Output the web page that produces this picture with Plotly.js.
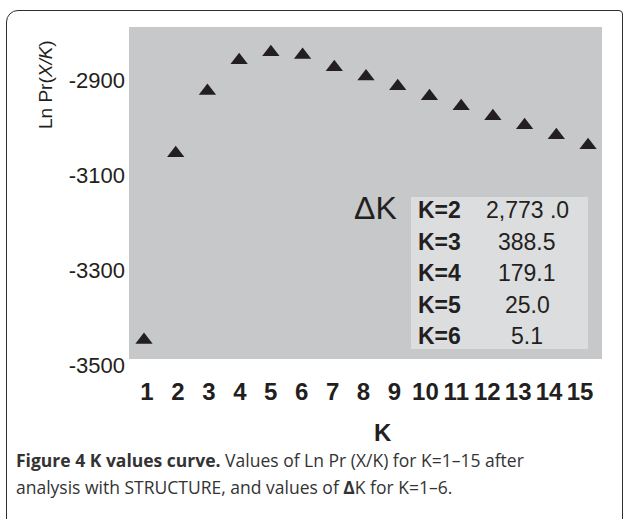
<!DOCTYPE html>
<html><head><meta charset="utf-8">
<script src="https://cdn.plot.ly/plotly-3.0.1.min.js"></script>
<style>
html,body{margin:0;padding:0;background:#fff;}
#wrap{position:relative;width:624px;height:519px;overflow:hidden;}
#frame{position:absolute;left:6px;top:10px;width:617px;height:560px;border:1.6px solid #2e2e2e;border-radius:12px 4px 0 0;box-sizing:border-box;}
#chart{position:absolute;left:0;top:0;width:624px;height:519px;}
</style></head><body>
<div id="wrap"><div id="frame"></div><div id="chart"></div></div>
<script>
// ---- data ----
const kValues = [1,2,3,4,5,6,7,8,9,10,11,12,13,14,15];
const lnPr = [-3447,-3054,-2923,-2858,-2841,-2847,-2873,-2892,-2913,-2934,-2955,-2976,-2995,-3016,-3037];
const kTickText = ['1','2','3','4','5','6','7','8','9','10','11','12','13','14','15'];
const yTickVals = [-2900,-3100,-3300,-3500];
const yTickText = ['-2900','-3100','-3300','-3500'];
const dkLabels = ['K=2','K=3','K=4','K=5','K=6'];
const dkValues = ['2,773 .0','388.5','179.1','25.0','5.1'];

// ---- layout helpers ----
const W=624,H=519,ML=129,MR=22,MT=27,MB=153;
const PW=W-ML-MR, PH=H-MT-MB;
const px=(x)=>(x-ML)/PW;
const py=(y)=>(H-MB-y)/PH;
const ink='#231f20';

const traces=[
 {x:kValues,y:lnPr,type:'scatter',mode:'markers',xaxis:'x',yaxis:'y',
  marker:{symbol:'triangle-up',size:15,color:ink,line:{width:0}},hoverinfo:'skip',showlegend:false},
 {x:kValues,y:lnPr,type:'scatter',mode:'markers',xaxis:'x2',yaxis:'y',
  marker:{opacity:0},hoverinfo:'skip',showlegend:false}
];

const ann=[];
ann.push({xref:'paper',yref:'paper',x:px(45),y:py(85),text:'Ln Pr(<i>X/K</i>)',textangle:-90,
  showarrow:false,xanchor:'center',yanchor:'middle',font:{family:'Liberation Sans',size:19,color:ink}});
ann.push({xref:'paper',yref:'paper',x:px(383),y:py(432),text:'<b>K</b>',showarrow:false,
  xanchor:'center',yanchor:'middle',font:{family:'Liberation Sans',size:24,color:ink}});
ann.push({xref:'paper',yref:'paper',x:px(375),y:py(208),text:'ΔK',showarrow:false,
  xanchor:'center',yanchor:'middle',font:{family:'Liberation Sans',size:32,color:ink}});
const rowY=[210,242,273,305,336];
dkLabels.forEach((lab,i)=>{
  ann.push({xref:'paper',yref:'paper',x:px(416),y:py(rowY[i]),text:'<b>'+lab+'</b>',showarrow:false,
    xanchor:'left',yanchor:'middle',font:{family:'Liberation Sans',size:23,color:ink}});
  ann.push({xref:'paper',yref:'paper',x:px(527),y:py(rowY[i]),text:dkValues[i],showarrow:false,
    xanchor:'center',yanchor:'middle',font:{family:'Liberation Sans',size:23,color:ink}});
});
ann.push({xref:'paper',yref:'paper',x:px(14),y:py(460),text:'<b>Figure 4 K values curve.</b> Values of Ln Pr (X/K) for K=1–15 after',
  showarrow:false,xanchor:'left',yanchor:'middle',font:{family:'Open Sans',size:17.5,color:'#333333'}});
ann.push({xref:'paper',yref:'paper',x:px(14),y:py(487),text:'analysis with STRUCTURE, and values of <b>Δ</b>K for K=1–6.',
  showarrow:false,xanchor:'left',yanchor:'middle',font:{family:'Open Sans',size:17.5,color:'#333333'}});

const layout={
 width:W,height:H,margin:{l:ML,r:MR,t:MT,b:MB,pad:0},
 paper_bgcolor:'rgba(0,0,0,0)',plot_bgcolor:'rgba(0,0,0,0)',
 xaxis:{range:[0.527,15.44],showticklabels:false,showgrid:false,zeroline:false,showline:false,ticks:''},
 xaxis2:{range:[0.418,15.71],overlaying:'x',anchor:'y',side:'bottom',tickmode:'array',tickvals:kValues,ticktext:kTickText,
   showgrid:false,zeroline:false,showline:false,ticks:'',ticklabelstandoff:9,
   tickfont:{family:'Liberation Sans',size:24,color:ink,weight:'bold'}},
 yaxis:{range:[-3502,-2788],tickmode:'array',tickvals:yTickVals,ticktext:yTickText,showgrid:false,zeroline:false,
   showline:false,ticks:'',ticklabelstandoff:3,tickfont:{family:'Liberation Sans',size:22,color:ink}},
 shapes:[
  {type:'rect',xref:'paper',yref:'paper',x0:0,x1:1,y0:py(359),y1:1,fillcolor:'#c7c8ca',line:{width:0},layer:'below'},
  {type:'rect',xref:'paper',yref:'paper',x0:px(411),x1:px(588),y0:py(349),y1:py(197),fillcolor:'#dcdddf',line:{width:0},layer:'below'}
 ],
 annotations:ann,showlegend:false
};
Plotly.newPlot('chart',traces,layout,{displayModeBar:false,staticPlot:true});
</script></body></html>
